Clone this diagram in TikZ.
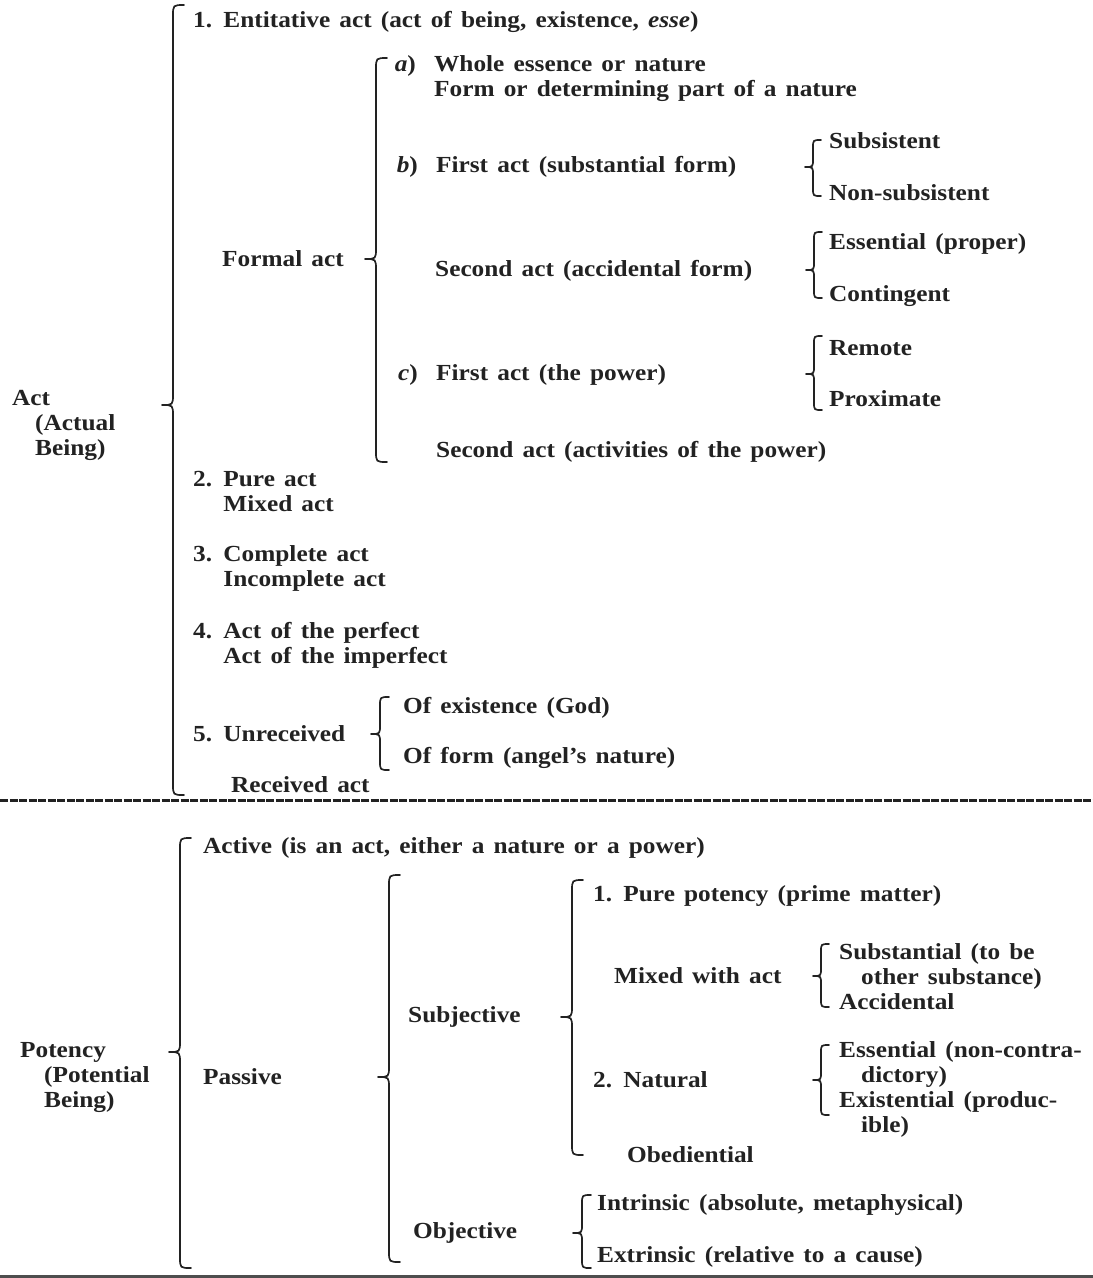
\documentclass[tikz,border=0pt]{standalone}
\usepackage{fontspec}
\setmainfont{Liberation Serif}[FakeStretch=1.1, WordSpace=1.45]
\definecolor{ink}{HTML}{222222}
\newcommand\Brc[5]{%
\draw[brace line] (#1+#5,#2) .. controls (#1,#2) .. (#1,#2+#5) -- (#1,#4-#5) .. controls (#1,#4) .. (#1-#5,#4) .. controls (#1,#4) .. (#1,#4+#5) -- (#1,#3-#5) .. controls (#1,#3) .. (#1+#5,#3);}
\begin{document}
\begin{tikzpicture}[x=1pt,y=-1pt,
  txt/.style={anchor=west, inner sep=0pt, font=\fontsize{23}{25}\selectfont\bfseries, align=left, text=ink},
  brace line/.style={draw=ink, line width=1.7pt, line cap=round, line join=round}]
\fill[white] (0,0) rectangle (1093,1278);
\useasboundingbox (0,0) rectangle (1093,1278);
% ---------- Act ----------
\node[txt] (actlbl) at (12,425) {Act\\\hspace*{23pt}(Actual\\\hspace*{23pt}Being)};
\Brc{173}{5}{795}{405}{11}
\node[txt] (ent) at (193,22) {1. Entitative act (act of being, existence, \textit{esse})};
\node[txt] (formal) at (222,259) {Formal act};
\Brc{376}{58}{462}{259}{11}
\node[txt] (wa) at (434,78.5) {\llap{\textit{a})\ \ }Whole essence or nature\\Form or determining part of a nature};
\node[txt] (fb) at (436,167) {\llap{\textit{b})\ \ }First act (substantial form)};
\Brc{813}{140}{196}{167}{8}
\node[txt] (subs) at (829,141) {Subsistent};
\node[txt] (nonsubs) at (829,193) {Non-subsistent};
\node[txt] (sec1) at (435,271) {Second act (accidental form)};
\Brc{814}{232}{298}{270}{8}
\node[txt] (ess) at (829,244) {Essential (proper)};
\node[txt] (cont) at (829,296) {Contingent};
\node[txt] (fc) at (436,375) {\llap{\textit{c})\ \ }First act (the power)};
\Brc{814}{336}{410}{374}{8}
\node[txt] (remote) at (829,348) {Remote};
\node[txt] (prox) at (829,399) {Proximate};
\node[txt] (sec2) at (436,452) {Second act (activities of the power)};
\node[txt] (pure) at (193,491.5) {2. Pure act\\\phantom{2. }Mixed act};
\node[txt] (compl) at (193,568.5) {3. Complete act\\\phantom{3. }Incomplete act};
\node[txt] (perf) at (193,645.5) {4. Act of the perfect\\\phantom{4. }Act of the imperfect};
\node[txt] (unrec) at (193,734) {5. Unreceived};
\Brc{380}{697}{770}{734}{9}
\node[txt] (ofex) at (403,708) {Of existence (God)};
\node[txt] (ofform) at (403,758) {Of form (angel's nature)};
\node[txt] (recv) at (231,785) {Received act};
% ---------- separator ----------
\draw[ink, line width=3pt, dash pattern=on 8pt off 1.5pt] (0,800) -- (1093,800);
% ---------- Potency ----------
\node[txt] (potlbl) at (20,1077) {Potency\\\hspace*{24pt}(Potential\\\hspace*{24pt}Being)};
\Brc{180}{838}{1268}{1052}{11}
\node[txt] (active) at (203,848) {Active (is an act, either a nature or a power)};
\node[txt] (passive) at (203,1077) {Passive};
\Brc{389}{875}{1262}{1077}{11}
\node[txt] (subj) at (408,1017) {Subjective};
\Brc{572}{880}{1155}{1017}{11}
\node[txt] (purepot) at (593,896) {1. Pure potency (prime matter)};
\node[txt] (mixed) at (614,976) {Mixed with act};
\Brc{821}{944}{1007}{976}{8}
\node[txt] (substl) at (839,977) {Substantial (to be\\\hspace*{22pt}other substance)\\Accidental};
\node[txt] (natural) at (593,1080) {2. Natural};
\Brc{821}{1045}{1115}{1080}{8}
\node[txt] (essl) at (839,1089.5) {Essential (non-contra-\\\hspace*{22pt}dictory)\\Existential (produc-\\\hspace*{22pt}ible)};
\node[txt] (obed) at (627,1155) {Obediential};
\node[txt] (objective) at (413,1233) {Objective};
\Brc{582}{1195}{1268}{1233}{9}
\node[txt] (intr) at (597,1205) {Intrinsic (absolute, metaphysical)};
\node[txt] (extr) at (597,1257) {Extrinsic (relative to a cause)};
\draw[ink!80, line width=3pt] (0,1276.5) -- (1093,1276.5);
\end{tikzpicture}
\end{document}
